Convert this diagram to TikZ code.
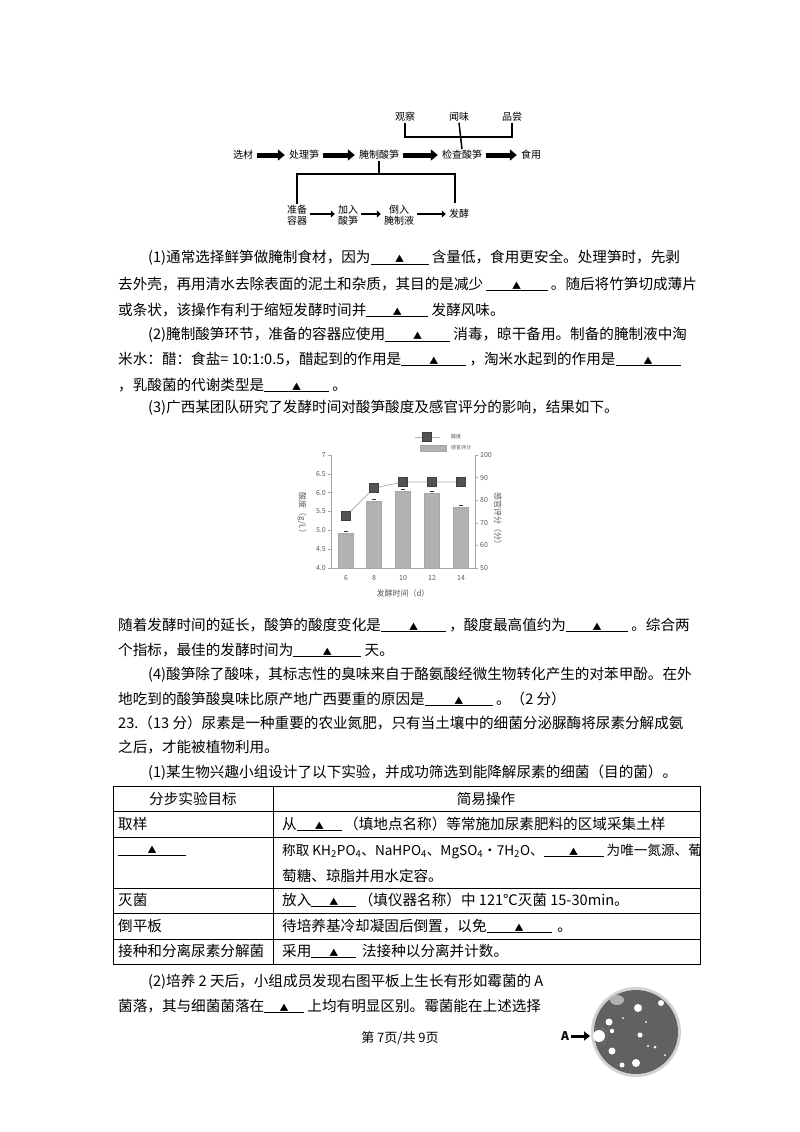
\documentclass[tikz,border=0pt]{standalone}
\usepackage{fontspec}
\setmainfont{Noto Sans CJK SC}
\usetikzlibrary{arrows.meta}
\newcommand\bl[1]{$\underline{\hbox to #1pt{\hfil\small ▲\hfil}}$}
\begin{document}
\begin{tikzpicture}[x=1pt,y=-1pt,
  txt/.style={anchor=west,inner sep=0pt,font=\fontsize{14.6}{16}\selectfont},
  fl/.style={inner sep=1pt,font=\fontsize{10}{11}\selectfont,align=center},
  big/.style={-{Triangle[length=7pt,width=11pt]},line width=5pt,shorten <=3pt,shorten >=3pt},
  sm/.style={-{Triangle[length=4pt,width=7pt]},line width=2.5pt,shorten <=2pt,shorten >=2pt},
  brk/.style={line width=1.5pt},
  cell/.style={inner sep=0pt,font=\fontsize{14.6}{16}\selectfont},
  ax/.style={gray!70,line width=0.5pt},
  tk/.style={font=\fontsize{7}{8}\selectfont,text=gray!70!black,inner sep=1pt},
  bar/.style={fill=gray!60,draw=gray!70},
  sq/.style={fill=gray!65!black,draw=gray!50!black,minimum size=9pt,inner sep=0pt}]
\useasboundingbox (0,0) rectangle (800,1132);
\fill[white] (0,0) rectangle (800,1132);
% flowchart
\node[fl] (gc) at (405,117) {观察};
\node[fl] (ww) at (459,117) {闻味};
\node[fl] (pc) at (512,117) {品尝};
\node[fl] (xc) at (243,155) {选材};
\node[fl] (cl) at (304,155) {处理笋};
\node[fl] (yz) at (379,155) {腌制酸笋};
\node[fl] (jc) at (462,155) {检查酸笋};
\node[fl] (sy) at (531,155) {食用};
\node[fl] (zb) at (297,215) {准备\\容器};
\node[fl] (jr) at (348,215) {加入\\酸笋};
\node[fl] (dr) at (399,215) {倒入\\腌制液};
\node[fl] (fj) at (459,214) {发酵};
\draw[big] (xc) -- (cl); \draw[big] (cl) -- (yz); \draw[big] (yz) -- (jc); \draw[big] (jc) -- (sy);
\draw[sm] (zb.east |- fj) -- (jr.west |- fj);
\draw[sm] (jr.east |- fj) -- (dr.west |- fj);
\draw[sm] (dr.east |- fj) -- (fj);
\draw[brk] (gc.south) -- (405,137) -- (512,137) -- (pc.south);
\draw[brk] (ww.south) -- (jc.north);
\draw[brk] (yz.south) -- (379,174);
\draw[brk] (zb.north) -- (297,174) -- (455,174) -- (455,203);
% text
\node[txt] at (148,258) {(1)通常选择鲜笋做腌制食材，因为\bl{58} 含量低，食用更安全。处理笋时，先剥};
\node[txt] at (118,284) {去外壳，再用清水去除表面的泥土和杂质，其目的是减少\,\bl{62} 。随后将竹笋切成薄片};
\node[txt] at (118,310) {或条状，该操作有利于缩短发酵时间并\bl{62} 发酵风味。};
\node[txt] at (148,335) {(2)腌制酸笋环节，准备的容器应使用\bl{65} 消毒，晾干备用。制备的腌制液中淘};
\node[txt] at (118,359) {米水：醋：食盐= 10:1:0.5，醋起到的作用是\bl{65} ，淘米水起到的作用是\bl{65}};
\node[txt] at (118,385) {，乳酸菌的代谢类型是\bl{65} 。};
\node[txt] at (148,408) {(3)广西某团队研究了发酵时间对酸笋酸度及感官评分的影响，结果如下。};
% chart
\draw[ax] (331,455) -- (331,568) -- (475,568) -- (475,455);
\foreach \v/\l in {4.0/4.0,4.5/4.5,5.0/5.0,5.5/5.5,6.0/6.0,6.5/6.5,7/7}{
  \draw[ax] (331,{568-(\v-4)*37.67}) -- (328,{568-(\v-4)*37.67});
  \node[tk,anchor=east] at (327,{568-(\v-4)*37.67}) {\l};}
\foreach \v in {50,60,70,80,90,100}{
  \draw[ax] (475,{568-(\v-50)*2.26}) -- (478,{568-(\v-50)*2.26});
  \node[tk,anchor=west] at (479,{568-(\v-50)*2.26}) {\v};}
\foreach \x/\d/\h in {346/6/4.93,374/8/5.78,403/10/6.05,432/12/5.98,461/14/5.62}{
  \fill[bar] (\x-7.5,568) rectangle (\x+7.5,{568-(\h-4)*37.67});
  \draw[gray!40!black,line width=0.4pt] (\x-2,{568-(\h-4)*37.67-2}) -- (\x+2,{568-(\h-4)*37.67-2});
  \node[tk] at (\x,578) {\d};}
\draw[gray!60,line width=0.8pt] (346,516) -- (374,488) -- (403,482) -- (432,482) -- (461,482);
\foreach \x/\y [count=\i] in {346/516,374/488,403/482,432/482,461/482}
  \node[sq] (s\i) at (\x,\y) {};
\draw[gray!60,line width=0.6pt] (415,437) -- (440,437);
\node[sq] (lg1) at (427,437) {};
\node[tk,anchor=west,font=\fontsize{5}{6}\selectfont] at (450,437) {酸度};
\fill[bar] (420,445) rectangle (446,451);
\node[tk,anchor=west,font=\fontsize{5}{6}\selectfont] at (450,448) {感官评分};
\node[tk,font=\fontsize{8}{9}\selectfont] at (403,593) {发酵时间（d）};
\node[tk,rotate=-90,font=\fontsize{8}{9}\selectfont] at (302,515) {酸度（g/L）};
\node[tk,rotate=-90,font=\fontsize{8}{9}\selectfont] at (498,520) {感官评分（分）};
% more text
\node[txt] at (118,625) {随着发酵时间的延长，酸笋的酸度变化是\bl{65} ，酸度最高值约为\bl{62} 。综合两};
\node[txt] at (118,650) {个指标，最佳的发酵时间为\bl{68} 天。};
\node[txt] at (148,675) {(4)酸笋除了酸味，其标志性的臭味来自于酪氨酸经微生物转化产生的对苯甲酚。在外};
\node[txt] at (118,699) {地吃到的酸笋酸臭味比原产地广西要重的原因是\bl{68} 。（2 分）};
\node[txt] at (118,723) {23.（13 分）尿素是一种重要的农业氮肥，只有当土壤中的细菌分泌脲酶将尿素分解成氨};
\node[txt] at (118,747) {之后，才能被植物利用。};
\node[txt] at (148,773) {(1)某生物兴趣小组设计了以下实验，并成功筛选到能降解尿素的细菌（目的菌）。};
% table
\draw[line width=0.8pt] (113,786) rectangle (700,964);
\foreach \y in {811,837,888,913,939} \draw[line width=0.6pt] (113,\y) -- (700,\y);
\draw[line width=0.6pt] (273,786) -- (273,964);
\node[cell] (h1) at (193,799) {分步实验目标};
\node[cell] (h2) at (486,799) {简易操作};
\node[cell,anchor=west] (a1) at (118,824) {取样};
\node[cell,anchor=west] (b1) at (282,824) {从\bl{45}\,（填地点名称）等常施加尿素肥料的区域采集土样};
\node[cell,anchor=west] (a2) at (118,851) {\bl{68}};
\node[cell,anchor=west,font=\fontsize{13.6}{16}\selectfont] (b2) at (282,851) {称取 KH\textsubscript{2}PO\textsubscript{4}、NaHPO\textsubscript{4}、MgSO\textsubscript{4}·7H\textsubscript{2}O、\bl{60} 为唯一氮源、葡};
\node[cell,anchor=west] (b2b) at (282,876) {萄糖、琼脂并用水定容。};
\node[cell,anchor=west] (a3) at (118,900) {灭菌};
\node[cell,anchor=west] (b3) at (282,900) {放入\bl{45}\,（填仪器名称）中 121℃灭菌 15-30min。};
\node[cell,anchor=west] (a4) at (118,926) {倒平板};
\node[cell,anchor=west] (b4) at (282,926) {待培养基冷却凝固后倒置，以免\bl{65}\, 。};
\node[cell,anchor=west] (a5) at (118,951) {接种和分离尿素分解菌};
\node[cell,anchor=west] (b5) at (282,951) {采用\bl{45}\, 法接种以分离并计数。};
% bottom text
\node[txt] at (148,982) {(2)培养 2 天后，小组成员发现右图平板上生长有形如霉菌的 A};
\node[txt] at (118,1006) {菌落，其与细菌菌落在\bl{40} 上均有明显区别。霉菌能在上述选择};
\node[inner sep=0pt,font=\fontsize{13}{15}\selectfont] (ft) at (400,1038) {第 7页/共 9页};
% petri dish
\fill[gray!35] (636,1032) circle (45);
\fill[black!62] (636,1032) circle (42);
\fill[gray!60] (617,1000) ellipse (7 and 5);
\foreach \x/\y/\r in {638/1008/4,661/1003/3,609/1022/3.5,612/1031/2.2,599/1036/6,612/1051/3.5,636/1063/4,622/1065/2.5,640/1035/2.5,655/1047/1.5,648/1046/1.2,623/1018/1,646/1022/1,665/1055/1}
  \fill[white] (\x,\y) circle (\r);
\draw[white,dotted] (599,1036) circle (8.5);
\node[inner sep=0pt,font=\bfseries\fontsize{12}{14}\selectfont] (A) at (565,1036) {A};
\coordinate (Ah) at (590,1036);
\draw[-{Triangle[length=6pt,width=9pt]},line width=3pt] (A.east) ++(2,0) -- (Ah);
\end{tikzpicture}
\end{document}
